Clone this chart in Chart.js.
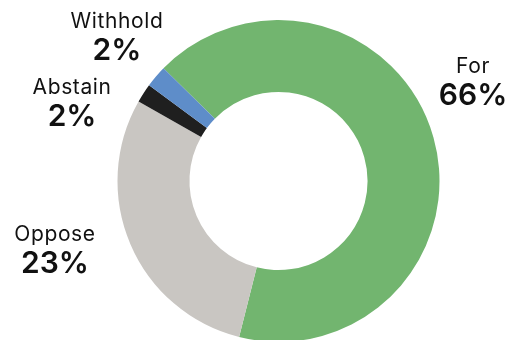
<!DOCTYPE html>
<html>
<head>
<meta charset="utf-8">
<script src="https://cdn.jsdelivr.net/npm/chart.js@4/dist/chart.umd.min.js"></script>
<style>
  html, body { margin: 0; padding: 0; background: #ffffff; overflow: hidden; }
  #wrap { width: 512px; height: 344px; }
</style>
</head>
<body>
<div id="wrap"><canvas id="c" width="512" height="344"></canvas></div>
<script>
const categories = ["For", "Oppose", "Abstain", "Withhold"];
const values = [66.6, 29.3, 1.9, 2.2];
// Printed labels as shown in the picture
const pctLabels = ["66%", "23%", "2%", "2%"];
const colors = ["#72B56F", "#C9C6C2", "#1F1F1F", "#5E8DC9"];

// label placement: angle (deg, clockwise from top) and distance from centre
const labelAngle = [62.8, 253.1, 290.9, 311.9];
const labelDist = [218.7, 233.6, 221, 217];

const labelPlugin = {
  id: 'sliceLabels',
  afterDraw(chart) {
    const ctx = chart.ctx;
    const arc = chart.getDatasetMeta(0).data[0];
    const cx = arc.x, cy = arc.y;
    ctx.save();
    ctx.fillStyle = '#111111';
    ctx.textAlign = 'center';
    ctx.textBaseline = 'middle';
    categories.forEach((name, i) => {
      const a = labelAngle[i] * Math.PI / 180;
      const x = cx + labelDist[i] * Math.sin(a);
      const y = cy - labelDist[i] * Math.cos(a);
      ctx.font = '400 21px Inter';
      if ('letterSpacing' in ctx) ctx.letterSpacing = '0.6px';
      ctx.fillText(name, x, y - 14.5);
      ctx.font = '600 30px Inter';
      if ('letterSpacing' in ctx) ctx.letterSpacing = '0px';
      ctx.fillText(pctLabels[i], x, y + 15);
    });
    ctx.restore();
  }
};

new Chart(document.getElementById('c'), {
  type: 'doughnut',
  data: {
    labels: categories,
    datasets: [{
      data: values,
      backgroundColor: colors,
      borderWidth: 0,
      hoverOffset: 0
    }]
  },
  options: {
    responsive: false,
    animation: false,
    rotation: 314.4,
    cutout: '55.3%',
    layout: { padding: { top: 20, bottom: 2, left: 117, right: 72 } },
    plugins: { legend: { display: false }, tooltip: { enabled: false } }
  },
  plugins: [labelPlugin]
});
</script>
</body>
</html>
